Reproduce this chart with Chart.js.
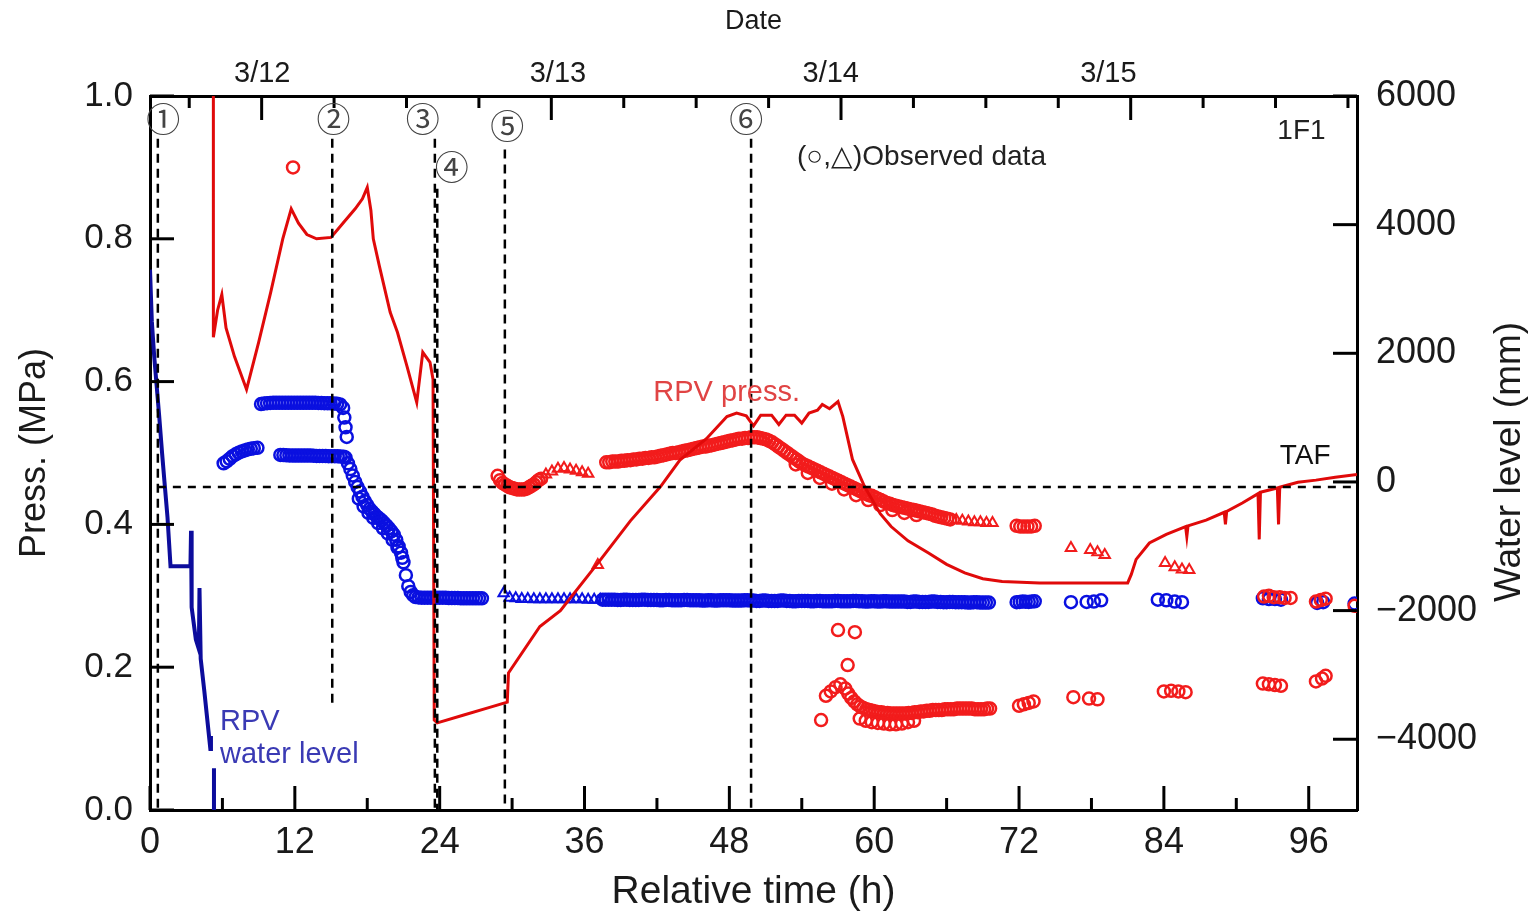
<!DOCTYPE html>
<html>
<head>
<meta charset="utf-8">
<title>1F1 RPV press. / water level</title>
<script src="https://cdn.jsdelivr.net/npm/chart.js@4.4.1/dist/chart.umd.min.js"></script>
<style>
  html, body { margin: 0; padding: 0; background: #fff; }
  #wrap { width: 1536px; height: 912px; }
</style>
</head>
<body>
<div id="wrap"><canvas id="chart" width="1536" height="912"></canvas></div>
<script>
// 目盛り
const pressTicks = [0, 0.2, 0.4, 0.6, 0.8, 1.0];
const levelTicks = [-4000, -2000, 0, 2000, 4000, 6000];
const timeTicks = [0, 12, 24, 36, 48, 60, 72, 84, 96];
const dateLabels = ['3/12', '3/13', '3/14', '3/15'];
const dateLabelTimes = [9.3, 33.8, 56.4, 79.4];
const dayStartTimes = [9.25, 33.25, 57.25, 81.25];

// 解析値：RPV圧力 [時間(h), MPa]
const pressCalc = [
  [5.25, 1.2], [5.25, 0.662], [5.6, 0.70], [5.95, 0.722], [6.3, 0.675], [7.0, 0.635], [8.0, 0.589],
  [9.0, 0.655], [10.0, 0.725], [11.0, 0.80], [11.7, 0.842], [12.3, 0.822], [13.0, 0.806], [13.8, 0.800],
  [15.0, 0.802], [16.0, 0.822], [17.0, 0.842], [17.6, 0.856], [18.0, 0.872], [18.3, 0.84], [18.5, 0.80],
  [19.0, 0.762], [19.9, 0.697], [20.5, 0.669], [21.3, 0.621], [22.1, 0.571], [22.6, 0.641], [23.2, 0.627],
  [23.45, 0.603], [23.55, 0.126], [23.8, 0.122], [26.0, 0.133], [28.0, 0.143], [29.6, 0.151], [29.7, 0.192],
  [32.3, 0.257], [34.0, 0.279], [37.3, 0.350], [39.8, 0.405], [42.3, 0.453], [43.9, 0.490], [46.1, 0.520],
  [47.8, 0.551], [48.6, 0.556], [49.4, 0.552], [50.0, 0.538], [50.6, 0.553], [51.5, 0.553], [52.1, 0.540],
  [52.7, 0.553], [53.4, 0.553], [54.0, 0.542], [54.6, 0.556], [55.3, 0.560], [55.7, 0.568], [56.3, 0.562],
  [57.0, 0.572], [57.4, 0.551], [58.2, 0.491], [59.2, 0.453], [60.5, 0.415], [61.4, 0.397], [62.8, 0.377],
  [64.5, 0.360], [66.0, 0.344], [67.5, 0.332], [69.0, 0.324], [70.6, 0.320], [73.7, 0.318], [77.0, 0.318],
  [81.0, 0.318], [81.3, 0.330], [81.7, 0.351], [82.8, 0.374], [84.2, 0.386], [85.8, 0.397], [85.9, 0.383],
  [86.0, 0.398], [87.5, 0.406], [89.0, 0.417], [89.1, 0.400], [89.2, 0.418], [90.5, 0.430], [91.8, 0.443],
  [91.9, 0.379], [92.0, 0.445], [93.4, 0.451], [93.5, 0.400], [93.6, 0.452], [95.1, 0.459], [96.6, 0.462],
  [98.2, 0.466], [100.0, 0.470]
];

// 解析値：RPV水位 [時間(h), mm]（nullで線を切る）
const levelCalc = [
  [0.0, 3300], [0.15, 2500], [0.35, 1950], [0.55, 1500], [0.75, 1050], [1.0, 450], [1.2, 0],
  [1.45, -550], [1.7, -1310], [2.0, -1310], [3.35, -1310], [3.4, -760], [3.45, -1950], [3.8, -2450],
  [4.05, -2600], [4.1, -1650], [4.2, -2750], [4.5, -3250], [4.75, -3700], [5.0, -4150], [5.05, -3950],
  [5.15, null], [5.3, -4450], [5.3, -5500]
];

// 実測値：圧力（○）
const pressObsCircle = [
  [11.85, 0.90],
  [28.8, 0.468], [29.0, 0.462], [29.2, 0.458], [29.4, 0.456], [29.6, 0.454], [29.8, 0.452], [30.0, 0.451],
  [30.2, 0.450], [30.4, 0.449], [30.6, 0.449], [30.8, 0.449], [31.0, 0.449], [31.2, 0.450], [31.4, 0.452],
  [31.6, 0.454], [31.8, 0.456], [32.0, 0.459], [32.2, 0.462], [32.4, 0.464],
  [37.8, 0.487], [38.05, 0.487], [38.3, 0.488], [38.55, 0.488], [38.8, 0.488], [39.05, 0.489], [39.3, 0.489],
  [39.55, 0.490], [39.8, 0.490], [40.05, 0.491], [40.3, 0.491], [40.55, 0.492], [40.8, 0.492], [41.05, 0.493],
  [41.3, 0.493], [41.55, 0.494], [41.8, 0.494], [42.05, 0.495], [42.3, 0.496], [42.55, 0.497], [42.8, 0.498],
  [43.05, 0.499], [43.3, 0.500], [43.55, 0.500], [43.8, 0.501], [44.05, 0.502], [44.3, 0.503], [44.55, 0.504],
  [44.8, 0.505], [45.05, 0.506], [45.3, 0.507], [45.55, 0.508], [45.8, 0.509], [46.05, 0.509], [46.3, 0.510],
  [46.55, 0.511], [46.8, 0.512], [47.05, 0.513], [47.3, 0.514], [47.55, 0.515], [47.8, 0.516], [48.05, 0.517],
  [48.3, 0.518], [48.55, 0.519], [48.8, 0.520], [49.05, 0.520], [49.3, 0.521], [49.55, 0.521], [49.8, 0.522],
  [50.05, 0.522], [50.3, 0.522], [50.55, 0.521], [50.8, 0.520], [51.05, 0.519], [51.3, 0.517], [51.55, 0.515],
  [51.8, 0.512], [52.05, 0.509], [52.3, 0.506], [52.55, 0.503], [52.8, 0.500], [53.05, 0.497], [53.3, 0.494],
  [53.55, 0.491], [53.8, 0.488], [54.05, 0.485], [54.3, 0.483], [54.55, 0.481], [54.8, 0.479], [55.05, 0.477],
  [55.3, 0.475], [55.55, 0.473], [55.8, 0.471], [56.05, 0.469], [56.3, 0.467], [56.55, 0.465], [56.8, 0.463],
  [57.05, 0.461], [57.3, 0.459], [57.55, 0.457], [57.8, 0.455], [58.05, 0.453], [58.3, 0.451], [58.55, 0.449],
  [58.8, 0.447], [59.05, 0.445], [59.3, 0.443], [59.55, 0.441], [59.8, 0.440], [60.05, 0.438], [60.3, 0.436],
  [60.55, 0.434], [60.8, 0.432], [61.05, 0.430], [61.3, 0.429], [61.55, 0.427], [61.8, 0.426], [62.05, 0.425],
  [62.3, 0.424], [62.55, 0.423], [62.8, 0.422], [63.05, 0.421], [63.3, 0.420], [63.55, 0.419], [63.8, 0.418],
  [64.05, 0.417], [64.3, 0.416], [64.55, 0.415], [64.8, 0.414], [65.05, 0.412], [65.3, 0.411], [65.55, 0.410],
  [65.8, 0.409], [66.05, 0.408], [66.3, 0.407],
  [53.5, 0.484], [54.5, 0.472], [55.5, 0.465], [56.5, 0.457], [57.5, 0.449], [58.5, 0.441], [59.5, 0.434],
  [60.5, 0.427], [61.5, 0.420], [62.5, 0.416], [63.5, 0.413],
  [71.8, 0.398], [72.1, 0.397], [72.4, 0.397], [72.7, 0.397], [73.0, 0.397], [73.3, 0.398],
  [92.3, 0.299], [92.7, 0.300], [93.1, 0.298], [93.6, 0.298], [94.0, 0.297], [94.5, 0.297],
  [96.6, 0.292], [97.0, 0.294], [97.4, 0.296], [99.8, 0.286]
];

// 実測値：圧力（○、下側）
const pressObsLow = [
  [55.6, 0.126], [56.0, 0.160], [56.4, 0.166], [56.8, 0.172], [57.2, 0.176], [57.0, 0.252], [58.4, 0.249],
  [57.8, 0.203],
  [57.6, 0.170], [57.85, 0.163], [58.1, 0.157], [58.35, 0.152], [58.6, 0.148], [58.85, 0.145], [59.1, 0.143],
  [59.35, 0.141], [59.6, 0.140], [59.85, 0.139], [60.1, 0.138], [60.35, 0.137], [60.6, 0.137], [60.85, 0.136],
  [61.1, 0.136], [61.35, 0.135], [61.6, 0.135], [61.85, 0.135], [62.1, 0.135], [62.35, 0.135], [62.6, 0.135],
  [62.85, 0.136], [63.1, 0.136], [63.35, 0.137], [63.6, 0.137], [63.85, 0.138], [64.1, 0.138], [64.35, 0.139],
  [64.6, 0.139], [64.85, 0.140], [65.1, 0.140], [65.35, 0.140], [65.6, 0.140], [65.85, 0.141], [66.1, 0.141],
  [66.35, 0.141], [66.6, 0.141], [66.85, 0.142], [67.1, 0.142], [67.35, 0.142], [67.6, 0.142], [67.85, 0.142],
  [68.1, 0.142], [68.35, 0.141], [68.6, 0.141], [68.85, 0.141], [69.1, 0.141], [69.35, 0.142], [69.6, 0.142],
  [58.8, 0.128], [59.3, 0.125], [59.8, 0.123], [60.3, 0.122], [60.8, 0.121], [61.3, 0.120], [61.8, 0.120],
  [62.3, 0.121], [62.8, 0.123], [63.3, 0.125],
  [72.0, 0.146], [72.4, 0.148], [72.8, 0.150], [73.2, 0.152],
  [76.5, 0.158], [77.8, 0.156], [78.5, 0.155],
  [84.0, 0.166], [84.6, 0.167], [85.2, 0.166], [85.8, 0.165],
  [92.2, 0.177], [92.7, 0.176], [93.2, 0.175], [93.7, 0.174],
  [96.6, 0.180], [97.1, 0.184], [97.4, 0.188]
];

// 実測値：圧力（△）
const pressObsTriangle = [
  [32.8, 0.470], [33.3, 0.474], [33.8, 0.478], [34.3, 0.479], [34.8, 0.477], [35.3, 0.475], [35.8, 0.473],
  [36.3, 0.471], [37.1, 0.343],
  [66.8, 0.406], [67.3, 0.405], [67.8, 0.404], [68.3, 0.403], [68.8, 0.403], [69.3, 0.402], [69.8, 0.402],
  [76.3, 0.367], [77.9, 0.364], [78.5, 0.361], [79.1, 0.357],
  [84.1, 0.346], [84.9, 0.340], [85.5, 0.337], [86.1, 0.336]
];

// 実測値：水位（○）
const levelObsCircle = [
  [6.1, 290], [6.35, 320], [6.6, 360], [6.85, 400], [7.1, 430], [7.35, 455], [7.6, 475], [7.85, 490],
  [8.1, 505], [8.35, 515], [8.6, 525], [8.9, 530],
  [9.2, 1210], [9.45, 1220], [9.7, 1225], [9.95, 1228], [10.2, 1230], [10.45, 1230], [10.7, 1230],
  [10.95, 1230], [11.2, 1230], [11.45, 1230], [11.7, 1230], [11.95, 1230], [12.2, 1230], [12.45, 1230],
  [12.7, 1230], [12.95, 1230], [13.2, 1230], [13.45, 1230], [13.7, 1230], [13.95, 1228], [14.2, 1226],
  [14.45, 1225], [14.7, 1225], [14.95, 1223], [15.25, 1220], [15.5, 1215], [15.75, 1205], [16.0, 1150],
  [16.1, 1000], [16.2, 850], [16.3, 700],
  [10.8, 420], [11.05, 418], [11.3, 415], [11.55, 412], [11.8, 410], [12.05, 410], [12.3, 410], [12.55, 410],
  [12.8, 410], [13.05, 410], [13.3, 410], [13.55, 408], [13.8, 405], [14.05, 405], [14.3, 405], [14.55, 402],
  [14.8, 400], [15.05, 400], [15.3, 400], [15.55, 398], [15.8, 395], [16.05, 390], [16.2, 380],
  [16.4, 290], [16.6, 200], [16.8, 100], [17.0, 0], [17.2, -80], [17.4, -150], [17.6, -230], [17.8, -300],
  [18.0, -360], [18.2, -420], [18.4, -460], [18.6, -500], [18.8, -540], [19.0, -570], [19.2, -600],
  [19.4, -640], [19.6, -680], [19.8, -720], [20.0, -770], [20.2, -820], [20.4, -900], [20.6, -1000],
  [20.8, -1100], [21.0, -1250], [21.2, -1450], [21.4, -1620], [21.6, -1710], [21.8, -1760],
  [17.3, -260], [17.7, -380], [18.1, -480], [18.5, -560], [18.9, -640], [19.3, -720], [19.7, -800],
  [20.1, -900], [20.5, -1020], [20.9, -1180],
  [22.0, -1790], [22.25, -1795], [22.5, -1800], [22.75, -1800], [23.0, -1800], [23.25, -1800], [23.5, -1800],
  [23.75, -1800], [24.0, -1800], [24.25, -1800], [24.5, -1800], [24.75, -1805], [25.0, -1805], [25.25, -1805],
  [25.5, -1805], [25.75, -1810], [26.0, -1810], [26.25, -1810], [26.5, -1810], [26.75, -1810], [27.0, -1810],
  [27.25, -1810], [27.5, -1810],
  [37.5, -1830], [37.75, -1830], [38.0, -1830], [38.25, -1830], [38.5, -1830], [38.75, -1835], [39.0, -1835],
  [39.25, -1830], [39.5, -1830], [39.75, -1835], [40.0, -1835], [40.25, -1835], [40.5, -1835], [40.75, -1830],
  [41.0, -1830], [41.25, -1835], [41.5, -1835], [41.75, -1835], [42.0, -1835], [42.25, -1840], [42.5, -1840],
  [42.75, -1835], [43.0, -1835], [43.25, -1840], [43.5, -1840], [43.75, -1840], [44.0, -1840], [44.25, -1835],
  [44.5, -1835], [44.75, -1840], [45.0, -1840], [45.25, -1840], [45.5, -1840], [45.75, -1845], [46.0, -1845],
  [46.25, -1840], [46.5, -1840], [46.75, -1845], [47.0, -1845], [47.25, -1840], [47.5, -1840], [47.75, -1840],
  [48.0, -1840], [48.25, -1845], [48.5, -1845], [48.75, -1845], [49.0, -1845], [49.25, -1840], [49.5, -1840],
  [49.75, -1845], [50.0, -1845], [50.25, -1850], [50.5, -1850], [50.75, -1845], [51.0, -1845], [51.25, -1850],
  [51.5, -1850], [51.75, -1850], [52.0, -1850], [52.25, -1845], [52.5, -1845], [52.75, -1850], [53.0, -1850],
  [53.25, -1855], [53.5, -1855], [53.75, -1850], [54.0, -1850], [54.25, -1850], [54.5, -1850], [54.75, -1855],
  [55.0, -1855], [55.25, -1850], [55.5, -1850], [55.75, -1855], [56.0, -1855], [56.25, -1855], [56.5, -1855],
  [56.75, -1850], [57.0, -1850], [57.25, -1855], [57.5, -1855], [57.75, -1855], [58.0, -1855], [58.25, -1850],
  [58.5, -1850], [58.75, -1855], [59.0, -1855], [59.25, -1860], [59.5, -1860], [59.75, -1855], [60.0, -1855],
  [60.25, -1860], [60.5, -1860], [60.75, -1855], [61.0, -1855], [61.25, -1860], [61.5, -1860], [61.75, -1860],
  [62.0, -1860], [62.25, -1860], [62.5, -1860], [62.75, -1865], [63.0, -1865], [63.25, -1860], [63.5, -1860],
  [63.75, -1865], [64.0, -1865], [64.25, -1865], [64.5, -1865], [64.75, -1860], [65.0, -1860], [65.25, -1865],
  [65.5, -1865], [65.75, -1870], [66.0, -1870], [66.25, -1865], [66.5, -1865], [66.75, -1870], [67.0, -1870],
  [67.25, -1870], [67.5, -1870], [67.75, -1875], [68.0, -1875], [68.25, -1870], [68.5, -1870], [68.75, -1875],
  [69.0, -1875], [69.25, -1875], [69.5, -1875],
  [71.8, -1870], [72.05, -1865], [72.3, -1860], [72.55, -1862], [72.8, -1865], [73.05, -1860], [73.3, -1855],
  [76.3, -1870], [77.6, -1865], [78.2, -1860], [78.8, -1840],
  [83.5, -1830], [84.2, -1840], [84.9, -1860], [85.5, -1870],
  [92.2, -1810], [92.7, -1820], [93.2, -1820], [93.7, -1830],
  [96.7, -1880], [97.2, -1870], [99.8, -1890]
];

// 実測値：水位（△）
const levelObsTriangle = [
  [29.3, -1730], [29.8, -1800], [30.3, -1810], [30.8, -1820], [31.3, -1820], [31.8, -1825], [32.3, -1825],
  [32.8, -1825], [33.3, -1825], [33.8, -1825], [34.3, -1825], [34.8, -1825], [35.3, -1825], [35.8, -1825],
  [36.3, -1830], [36.8, -1830], [37.3, -1830]
];

// イベント（破線）
const eventTimes = [0.65, 15.1, 23.6, 23.8, 29.4, 49.8];
const eventTop = [0.94, 0.94, 0.94, 0.87, 0.925, 0.94];
const eventBottom = [0, 0.147, 0, 0, 0, 0];
const eventMarks = ['①', '②', '③', '④', '⑤', '⑥'];
const tafLevel = -80;

// 文字の配置（データ座標）
const FONT = "'Liberation Sans', Arial, sans-serif";
const CJK = "'Noto Sans CJK JP', 'DejaVu Sans', sans-serif";
const markPos = [[1.1, 0.968], [15.2, 0.968], [22.6, 0.968], [25.0, 0.90], [29.6, 0.958], [49.4, 0.968]];
const notes = [
  { text: '1F1', t: 95.4, v: 0.951, axis: 'y', color: '#222', size: 28, align: 'center' },
  { text: '(○,△)Observed data', t: 53.6, v: 0.914, axis: 'y', color: '#222', size: 28, align: 'left' },
  { text: 'RPV press.', t: 41.7, v: 0.584, axis: 'y', color: '#e04444', size: 29, align: 'left' },
  { text: 'RPV', t: 5.8, v: 0.123, axis: 'y', color: '#3a3ab4', size: 29, align: 'left' },
  { text: 'water level', t: 5.8, v: 0.077, axis: 'y', color: '#3a3ab4', size: 29, align: 'left' },
  { text: 'TAF', t: 93.6, v: 404, axis: 'y2', color: '#111', size: 28, align: 'left' }
];

const toPts = arr => arr.map(([x, y]) => ({ x, y }));

// 破線データセット
const eventSets = eventTimes.map((t, i) => ({
  data: [{ x: t, y: eventTop[i] }, { x: t, y: eventBottom[i] }],
  yAxisID: 'y', showLine: true, borderColor: '#000', borderWidth: 2.5,
  borderDash: [9, 6], pointRadius: 0, order: 0
}));

const circleStyle = { pointStyle: 'circle', pointRadius: 6, pointBorderWidth: 2.5, backgroundColor: 'rgba(0,0,0,0)' };
const triangleStyle = { pointStyle: 'triangle', pointRadius: 6, pointBorderWidth: 2, backgroundColor: 'rgba(0,0,0,0)' };

const datasets = [
  ...eventSets,
  {
    data: [{ x: eventTimes[0], y: tafLevel }, { x: 100, y: tafLevel }],
    yAxisID: 'y2', showLine: true, borderColor: '#000', borderWidth: 2.5,
    borderDash: [8, 7], pointRadius: 0, order: 0
  },
  {
    data: toPts(pressCalc), yAxisID: 'y', showLine: true, borderColor: '#e00a0a',
    borderWidth: 3, pointRadius: 0, order: 1
  },
  {
    data: toPts(levelCalc), yAxisID: 'y2', showLine: true, spanGaps: false, borderColor: '#0c0c9c',
    borderWidth: 4, pointRadius: 0, order: 2
  },
  { data: toPts(pressObsCircle), yAxisID: 'y', borderColor: '#f21c1c', ...circleStyle, order: 3 },
  { data: toPts(pressObsLow), yAxisID: 'y', borderColor: '#f21c1c', ...circleStyle, order: 3 },
  { data: toPts(pressObsTriangle), yAxisID: 'y', borderColor: '#f21c1c', ...triangleStyle, order: 3 },
  { data: toPts(levelObsCircle), yAxisID: 'y2', borderColor: '#0a10e0', ...circleStyle, order: 4 },
  { data: toPts(levelObsTriangle), yAxisID: 'y2', borderColor: '#0a10e0', ...triangleStyle, order: 4 }
];

// 内向きの目盛り線・注記・右軸タイトルを描くプラグイン
const decorations = {
  id: 'decorations',
  afterDraw(chart) {
    const { ctx, chartArea: a, scales } = chart;
    ctx.save();
    ctx.strokeStyle = '#000';
    ctx.lineWidth = 3;
    const tick = (x1, y1, x2, y2) => {
      ctx.beginPath(); ctx.moveTo(x1, y1); ctx.lineTo(x2, y2); ctx.stroke();
    };
    // 下軸：12hごとに長く、6hごとに短く
    for (let t = 0; t <= 100; t += 6) {
      const x = scales.x.getPixelForValue(t);
      tick(x, a.bottom, x, a.bottom - (t % 12 === 0 ? 24 : 12));
    }
    // 上軸：6hごと、日付の境目は長く
    for (let t = dayStartTimes[0] - 6; t <= 100; t += 6) {
      const x = scales.x.getPixelForValue(t);
      const isDay = dayStartTimes.some(d => Math.abs(d - t) < 0.01);
      tick(x, a.top, x, a.top + (isDay ? 24 : 12));
    }
    pressTicks.forEach(v => {
      const y = scales.y.getPixelForValue(v);
      tick(a.left, y, a.left + 24, y);
    });
    levelTicks.forEach(v => {
      const y = scales.y2.getPixelForValue(v);
      tick(a.right, y, a.right - 24, y);
    });

    // 丸数字
    ctx.textBaseline = 'middle';
    ctx.textAlign = 'center';
    ctx.fillStyle = '#444';
    ctx.font = '34px ' + CJK;
    eventMarks.forEach((m, i) => {
      ctx.fillText(m, scales.x.getPixelForValue(markPos[i][0]), scales.y.getPixelForValue(markPos[i][1]));
    });

    // 注記
    notes.forEach(n => {
      ctx.fillStyle = n.color;
      ctx.textAlign = n.align;
      ctx.font = n.size + 'px ' + FONT;
      ctx.fillText(n.text, scales.x.getPixelForValue(n.t), scales[n.axis].getPixelForValue(n.v));
    });

    // 右軸タイトル（下から上へ読む向き）
    ctx.translate(1510, 462);
    ctx.rotate(-Math.PI / 2);
    ctx.textAlign = 'center';
    ctx.fillStyle = '#1a1a1a';
    ctx.font = '37px ' + FONT;
    ctx.fillText('Water level (mm)', 0, 0);
    ctx.restore();
  }
};

const tickFont = { family: FONT, size: 35 };

new Chart(document.getElementById('chart'), {
  type: 'scatter',
  data: { datasets },
  options: {
    responsive: false,
    animation: false,
    devicePixelRatio: 1,
    layout: { padding: 0 },
    plugins: { legend: { display: false }, tooltip: { enabled: false } },
    scales: {
      x: {
        type: 'linear', position: 'bottom', min: 0, max: 100,
        afterBuildTicks: s => { s.ticks = timeTicks.map(v => ({ value: v })); },
        afterFit: s => { s.height = 102; },
        grid: { display: false, drawTicks: false },
        border: { display: true, width: 3, color: '#000' },
        ticks: { font: { family: FONT, size: 36 }, color: '#1a1a1a', padding: 11, maxRotation: 0, autoSkip: false },
        title: { display: true, text: 'Relative time (h)', font: { family: FONT, size: 39, lineHeight: 1 }, color: '#1a1a1a', padding: 0 }
      },
      xTop: {
        type: 'linear', position: 'top', min: 0, max: 100,
        afterBuildTicks: s => { s.ticks = dateLabelTimes.map(v => ({ value: v })); },
        afterFit: s => { s.height = 96; },
        grid: { display: false, drawTicks: false },
        border: { display: true, width: 3, color: '#000' },
        ticks: {
          font: { family: FONT, size: 29 }, color: '#1a1a1a', padding: 5, maxRotation: 0, autoSkip: false,
          callback: (v, i) => dateLabels[i]
        },
        title: { display: true, text: 'Date', font: { family: FONT, size: 27, lineHeight: 1 }, color: '#1a1a1a', padding: { top: 8, bottom: 0 } }
      },
      y: {
        type: 'linear', position: 'left', min: 0, max: 1,
        afterBuildTicks: s => { s.ticks = pressTicks.map(v => ({ value: v })); },
        afterFit: s => { s.width = 150; },
        grid: { display: false, drawTicks: false },
        border: { display: true, width: 3, color: '#000' },
        ticks: { font: tickFont, color: '#1a1a1a', padding: 17, callback: v => v.toFixed(1) },
        title: { display: true, text: 'Press. (MPa)', font: { family: FONT, size: 36, lineHeight: 1 }, color: '#1a1a1a', padding: { top: 17, bottom: 0 } }
      },
      y2: {
        type: 'linear', position: 'right', min: -5100, max: 6000,
        afterBuildTicks: s => { s.ticks = levelTicks.map(v => ({ value: v })); },
        afterFit: s => { s.width = 179; },
        grid: { display: false, drawTicks: false },
        border: { display: true, width: 3, color: '#000' },
        ticks: { font: { family: FONT, size: 36 }, color: '#1a1a1a', padding: 19, callback: v => (v < 0 ? '\u2212' + Math.abs(v) : String(v)) }
      }
    }
  },
  plugins: [decorations]
});
</script>
</body>
</html>
